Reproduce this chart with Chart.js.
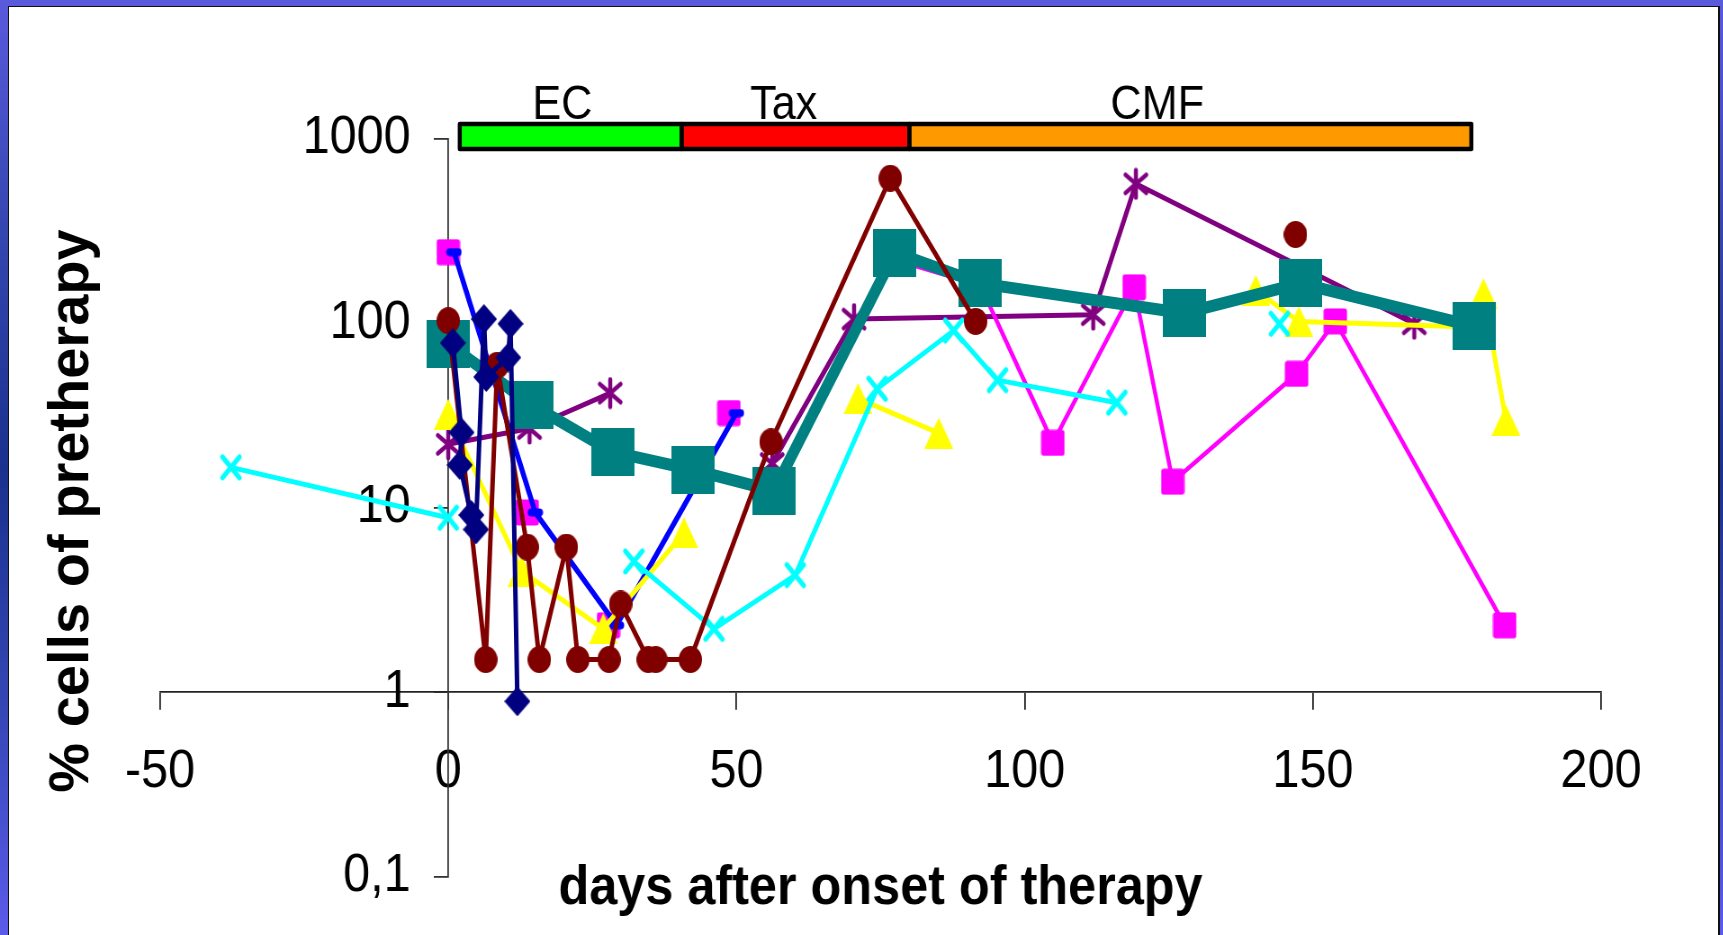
<!DOCTYPE html>
<html>
<head>
<meta charset="utf-8">
<title>% cells of pretherapy</title>
<script src="https://cdn.jsdelivr.net/npm/chart.js@4.4.1/dist/chart.umd.min.js"></script>
<style>
  html, body { margin: 0; padding: 0; width: 1723px; height: 935px; overflow: hidden; }
  body {
    position: relative;
    background: linear-gradient(to bottom, #5a5adc 0%, #3446b0 25%, #1a318e 50%, #3446b4 75%, #5b5bea 100%);
  }
  #panel {
    position: absolute; left: 8px; top: 6px; width: 1709px; height: 940px;
    background: #fff; border-left: 1px solid #111; border-top: 1px solid #111; border-right: 2px solid #111;
  }
  #wrap {
    position: absolute; left: 0; top: 0; width: 1915px; height: 935px;
    transform: scaleX(0.9); transform-origin: 0 0;
  }
  canvas { display: block; }
</style>
</head>
<body>
<div id="panel"></div>
<div id="wrap"><canvas id="chart" width="1915" height="935"></canvas></div>
<script>
// ---------- axes ----------
const xTickValues = [-50, 0, 50, 100, 150, 200];
const xTickLabels = ['-50', '0', '50', '100', '150', '200'];
const yTickValues = [0.1, 1, 10, 100, 1000];
const yTickLabels = ['0,1', '1', '10', '100', '1000'];

// ---------- therapy phases (days) ----------
const phaseNames = ['EC', 'Tax', 'CMF'];
const phaseStart = [2, 40.5, 80];
const phaseEnd   = [40.5, 80, 177.5];

// ---------- patient series (days after onset, % of pretherapy) ----------
// null marks a break in the line
const meanDays = [0, 14.5, 28.5, 42.5, 56.5, 77.5, 92.3, 127.7, 147.8, 178];
const meanVals = [77, 36, 20, 16, 12.3, 241, 164, 113, 164, 96];

const brownDays = [0, 6.5, 8.5, 13.7, 15.8, 20.5, 22.5, 27.9, 29.9, 34.7, 36, 42, 56, 76.7, 91.5, null, 147];
const brownVals = [103, 1.5, 59, 6.1, 1.5, 6.1, 1.5, 1.5, 3.0, 1.5, 1.5, 1.5, 22.7, 609, 102, null, 302];

const navyDays = [0.8, 2.3, 2.0, 4.0, 4.8, 6.2, 6.6, 10.4, 10.8, 12.0];
const navyVals = [78, 25.5, 17, 9.1, 7.6, 105, 51, 65, 99, 0.89];

const blueDays = [1.0, 15.1, 29.2, 50];
const blueVals = [242, 9.4, 2.3, 32.5];

const magentaDays = [0, null, 13.7, null, 27.8, null, 48.7, null, 77.5, 92.3, 104.9, 119, 125.7, 147.2, 153.9, 183.3];
const magentaVals = [242, null, 9.4, null, 2.3, null, 32.5, null, 220, 160, 22.4, 156, 13.8, 53, 102, 2.3];

const yellowDays = [0, 12.8, 26.9, 40.9, null, 71.1, 85.1, null, 140.1, 147.6, 177.4, 179.6, 183.5];
const yellowVals = [32, 4.5, 2.2, 7.3, null, 39, 25.3, null, 150, 102, 95, 144, 29.7];

const cyanDays = [-37.7, 0, null, 32.2, 46.1, 60.2, 74.4, 87.7, 95.3, 116, null, 144.2];
const cyanVals = [16.5, 8.8, null, 5.1, 2.2, 4.3, 44, 91, 49, 37, null, 99];

const purpleDays = [0, 14.1, 28.1, null, 56.2, 70.4, 111.9, 119.3, 167.6];
const purpleVals = [22, 26.8, 41.7, null, 17.3, 105, 111, 568, 99];

// ---------- marker glyphs ----------
function glyph(w, h, paint) {
  const c = document.createElement('canvas');
  c.width = w; c.height = h;
  paint(c.getContext('2d'), w, h);
  return c;
}
const mkSquare = (w, h, color, r) => glyph(w, h, (g) => {
  g.fillStyle = color; g.beginPath();
  if (r) g.roundRect(0.5, 0.5, w - 1, h - 1, r); else g.rect(0, 0, w, h);
  g.fill();
});
const mkEllipse = (w, h, color) => glyph(w, h, (g) => {
  g.fillStyle = color; g.beginPath(); g.ellipse(w / 2, h / 2, w / 2, h / 2, 0, 0, Math.PI * 2); g.fill();
});
const mkDiamond = (w, h, color) => glyph(w, h, (g) => {
  g.fillStyle = color; g.beginPath();
  g.moveTo(w / 2, 0); g.lineTo(w, h / 2); g.lineTo(w / 2, h); g.lineTo(0, h / 2); g.closePath(); g.fill();
});
const mkTriangle = (w, h, color) => glyph(w, h, (g) => {
  g.fillStyle = color; g.beginPath();
  g.moveTo(w / 2, 0); g.lineTo(w, h); g.lineTo(0, h); g.closePath(); g.fill();
});
const mkCross = (w, h, color, lw) => glyph(w, h, (g) => {
  g.strokeStyle = color; g.lineWidth = lw; g.lineCap = 'round'; g.beginPath();
  g.moveTo(lw, lw); g.lineTo(w - lw, h - lw); g.moveTo(w - lw, lw); g.lineTo(lw, h - lw); g.stroke();
});
const mkAsterisk = (w, h, color, lw) => glyph(w, h, (g) => {
  g.strokeStyle = color; g.lineWidth = lw; g.lineCap = 'round'; g.beginPath();
  g.moveTo(w / 2, lw / 2 + 0.5); g.lineTo(w / 2, h - lw / 2 - 0.5);
  g.moveTo(lw, lw + 3); g.lineTo(w - lw, h - lw - 3);
  g.moveTo(w - lw, lw + 3); g.lineTo(lw, h - lw - 3);
  g.stroke();
});

function series(days, vals, color, width, marker, order) {
  return {
    data: days.map((d, i) => ({ x: d, y: vals[i] })),
    borderColor: color,
    backgroundColor: color,
    borderWidth: width,
    borderJoinStyle: 'round',
    borderCapStyle: 'round',
    pointStyle: marker,
    pointRadius: 10,
    pointHoverRadius: 10,
    spanGaps: false,
    tension: 0,
    fill: false,
    clip: false,
    order: order
  };
}

// ---------- overlays: therapy bar and axis titles ----------
const therapyBar = {
  id: 'therapyBar',
  afterDatasetsDraw(chart, args, o) {
    const { ctx, scales: { x, y } } = chart;
    const top = y.getPixelForValue(o.high);
    const bot = y.getPixelForValue(o.low);
    ctx.save();
    phaseNames.forEach((name, i) => {
      const l = x.getPixelForValue(phaseStart[i]);
      const r = x.getPixelForValue(phaseEnd[i]);
      ctx.fillStyle = o.colors[i];
      ctx.fillRect(l, top, r - l, bot - top);
    });
    ctx.strokeStyle = '#000';
    ctx.lineWidth = o.borderWidth;
    ctx.lineJoin = 'round';
    phaseNames.forEach((name, i) => {
      const l = x.getPixelForValue(phaseStart[i]);
      const r = x.getPixelForValue(phaseEnd[i]);
      ctx.strokeRect(l, top, r - l, bot - top);
    });
    ctx.fillStyle = '#000';
    ctx.font = o.font;
    ctx.textAlign = 'center';
    ctx.textBaseline = 'alphabetic';
    phaseNames.forEach((name, i) => {
      ctx.fillText(name, x.getPixelForValue(o.labelAt[i]), top - o.borderWidth / 2 - 3);
    });
    ctx.restore();
  }
};

const axisTitles = {
  id: 'axisTitles',
  afterDraw(chart, args, o) {
    const { ctx, chartArea: a } = chart;
    ctx.save();
    ctx.fillStyle = '#000';
    ctx.textAlign = 'center';
    ctx.textBaseline = 'alphabetic';
    ctx.font = o.xFont;
    ctx.fillText(o.xText, (a.left + a.right) / 2, o.xBaseline);
    ctx.translate(o.yBaseline, (a.top + a.bottom) / 2 + 3.5);
    ctx.rotate(-Math.PI / 2);
    ctx.scale(1, 1 / 0.9);
    ctx.font = o.yFont;
    ctx.fillText(o.yText, 0, 0);
    ctx.restore();
  }
};

const FAMILY = '"Liberation Sans", Arial, sans-serif';
Chart.defaults.font.family = FAMILY;

const setYTicks = (scale) => { scale.ticks = yTickValues.map(v => ({ value: v })); };

new Chart(document.getElementById('chart'), {
  type: 'line',
  data: {
    datasets: [
      series(navyDays, navyVals, '#000080', 5, mkDiamond(29, 30, '#000080'), 0),
      series(brownDays, brownVals, '#800000', 5, mkEllipse(26, 27, '#800000'), 1),
      series(meanDays, meanVals, '#008080', 12, mkSquare(48, 48, '#008080'), 2),
      series(cyanDays, cyanVals, '#00ffff', 5, mkCross(29, 31, '#00ffff', 5), 3),
      series(yellowDays, yellowVals, '#ffff00', 5, mkTriangle(32, 31, '#ffff00'), 4),
      series(blueDays, blueVals, '#0000ff', 5.5, mkSquare(18, 9, '#0000ff', 4), 5),
      series(magentaDays, magentaVals, '#ff00ff', 4.5, mkSquare(27, 27, '#ff00ff', 3), 6),
      series(purpleDays, purpleVals, '#800080', 5, mkAsterisk(32, 33, '#800080', 4.5), 7)
    ]
  },
  options: {
    responsive: false,
    animation: false,
    events: [],
    devicePixelRatio: 1,
    layout: { padding: { left: 177.8, right: 136.1, top: 138.5, bottom: 58.5 } },
    plugins: {
      legend: { display: false },
      title: { display: false },
      tooltip: { enabled: false },
      therapyBar: {
        low: 877, high: 1198,
        colors: ['#00ff00', '#ff0000', '#ff9900'],
        borderWidth: 4.5,
        labelAt: [19.8, 58.2, 123],
        font: '48px ' + FAMILY
      },
      axisTitles: {
        xText: 'days after onset of therapy',
        xFont: 'bold 56px ' + FAMILY,
        xBaseline: 904,
        yText: '% cells of pretherapy',
        yFont: 'bold 56px ' + FAMILY,
        yBaseline: 97.5
      }
    },
    scales: {
      x: {
        type: 'linear',
        min: -50, max: 200,
        position: { y: 1 },
        afterBuildTicks: (s) => { s.ticks = xTickValues.map(v => ({ value: v })); },
        ticks: {
          autoSkip: false, maxRotation: 0, padding: 31, color: '#000',
          font: { size: 54, lineHeight: 1.2 },
          callback: (v) => xTickLabels[xTickValues.indexOf(v)]
        },
        grid: { drawOnChartArea: false, drawTicks: true, tickLength: 17, color: '#222', lineWidth: 1.8 },
        border: { color: '#222', width: 1.8 }
      },
      y: {
        type: 'logarithmic',
        min: 0.1, max: 1000,
        position: { x: 0 },
        afterBuildTicks: setYTicks,
        ticks: { display: false },
        grid: { drawOnChartArea: false, drawTicks: true, tickLength: 15, color: '#333', lineWidth: 1.8 },
        border: { color: '#333', width: 1.8 }
      },
      yLabels: {
        type: 'logarithmic',
        min: 0.1, max: 1000,
        position: { x: -6.5 },
        afterBuildTicks: setYTicks,
        ticks: {
          padding: 0, color: '#000',
          font: { size: 54, lineHeight: 1.2 },
          callback: (v) => yTickLabels[yTickValues.indexOf(v)]
        },
        grid: { display: false, drawTicks: false },
        border: { display: false }
      }
    }
  },
  plugins: [therapyBar, axisTitles]
});
</script>
</body>
</html>
